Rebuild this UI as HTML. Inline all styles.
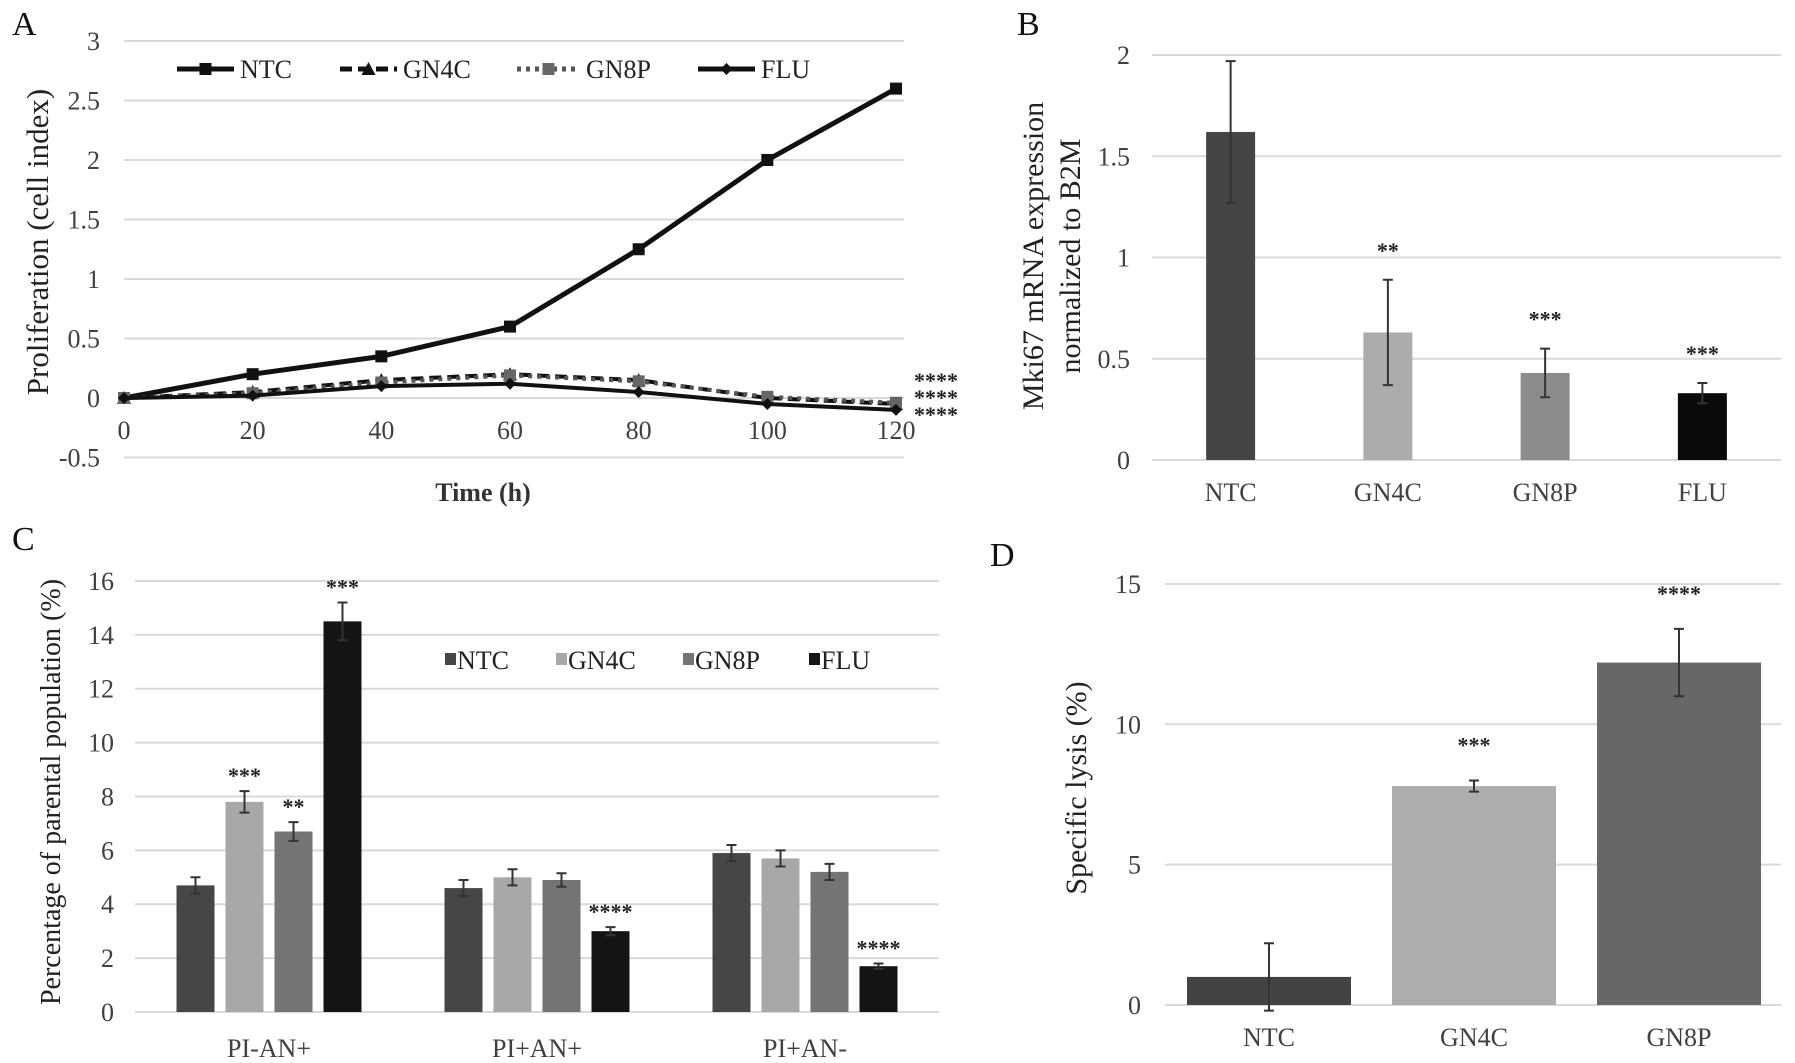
<!DOCTYPE html>
<html><head><meta charset="utf-8"><style>
html,body{margin:0;padding:0;background:#fff}
svg{display:block;font-family:"Liberation Serif",serif}
</style></head><body>
<svg id="fig" width="1795" height="1063" viewBox="0 0 1795 1063" xmlns="http://www.w3.org/2000/svg"></svg>
<script>
// ---- Panel A data ----
const aTimes=[0,20,40,60,80,100,120];
const aTicksY=[-0.5,0,0.5,1,1.5,2,2.5,3];
const aNTC=[0,0.2,0.35,0.6,1.25,2.0,2.6];
const aGN4C=[0,0.05,0.15,0.2,0.15,0.0,-0.05];
const aGN8P=[0,0.04,0.13,0.19,0.14,0.01,-0.04];
const aFLU=[0,0.02,0.1,0.12,0.05,-0.05,-0.1];
// ---- Panel B data ----
const bCats=["NTC","GN4C","GN8P","FLU"];
const bVals=[1.62,0.63,0.43,0.33];
const bErr=[0.35,0.26,0.12,0.05];
const bStars=["","**","***","***"];
const bTicks=[0,0.5,1,1.5,2];
// ---- Panel C data ----
const cCats=["PI-AN+","PI+AN+","PI+AN-"];
const cSeries=["NTC","GN4C","GN8P","FLU"];
const cNTC=[4.7,4.6,5.9];
const cGN4C=[7.8,5.0,5.7];
const cGN8P=[6.7,4.9,5.2];
const cFLU=[14.5,3.0,1.7];
const cErrNTC=[0.3,0.3,0.3];
const cErrGN4C=[0.4,0.3,0.3];
const cErrGN8P=[0.35,0.25,0.3];
const cErrFLU=[0.7,0.15,0.1];
const cStarsNTC=["","",""];
const cStarsGN4C=["***","",""];
const cStarsGN8P=["**","",""];
const cStarsFLU=["***","****","****"];
const cTicks=[0,2,4,6,8,10,12,14,16];
// ---- Panel D data ----
const dCats=["NTC","GN4C","GN8P"];
const dVals=[1.0,7.8,12.2];
const dErr=[1.2,0.2,1.2];
const dStars=["","***","****"];
const dTicks=[0,5,10,15];

const NS="http://www.w3.org/2000/svg";
const svg=document.getElementById('fig');
function mk(tag,attrs,parent,text){const e=document.createElementNS(NS,tag);for(const k in attrs)e.setAttribute(k,attrs[k]);if(text!==undefined)e.textContent=text;(parent||svg).appendChild(e);return e;}
function grp(name){const g=mk('g',{});return g;}
const TXT='#404040';

// panel letters
[["A",12,35],["B",1017,35],["C",12,550],["D",990,566]].forEach(p=>{
  const t=mk('text',{x:p[1],y:p[2],'font-size':34,fill:'#111'},svg,p[0]);
  
  
});

// ---------- Panel A ----------
(function(){
  const g=grp('panel-a-line-chart');
  const X=v=>124+v/120*772, Y=v=>398-v*119;
  aTicksY.forEach(v=>{
    const l=mk('line',{x1:124,x2:904,y1:Y(v),y2:Y(v),stroke:'#d9d9d9','stroke-width':2},g);
    
    const t=mk('text',{x:100,y:Y(v)+9,'text-anchor':'end','font-size':26,fill:TXT},g,String(v));
    
  });
  aTimes.forEach(v=>{
    const t=mk('text',{x:X(v),y:439,'text-anchor':'middle','font-size':26,fill:TXT},g,String(v));
    
  });
  const xt=mk('text',{x:483,y:501,'text-anchor':'middle','font-size':26,'font-weight':'bold',fill:'#333'},g,'Time  (h)');
  
  const yt=mk('text',{x:0,y:0,'text-anchor':'middle','font-size':31,fill:'#222',transform:'translate(48,242) rotate(-90)'},g,'Proliferation (cell index)');
  
  function path(vals){let d='';vals.forEach((v,i)=>{d+=(i?'L':'M')+X(aTimes[i])+','+Y(v);});return d;}
  const series=[
    {n:'ntc',v:aNTC,dash:'',w:5,m:'sq'},
    {n:'gn4c',v:aGN4C,dash:'12,6',w:4,m:'tri'},
    {n:'gn8p',v:aGN8P,dash:'4,5',w:4,m:'sqg'},
    {n:'flu',v:aFLU,dash:'',w:4,m:'dia'}];
  function marker(type,x,y,p){
    let e;
    if(type==='sq') e=mk('rect',{x:x-6,y:y-6,width:12,height:12,fill:'#111'},p);
    else if(type==='sqg') e=mk('rect',{x:x-6,y:y-6,width:12,height:12,fill:'#666'},p);
    else if(type==='tri') e=mk('polygon',{points:`${x},${y-7} ${x+7},${y+6} ${x-7},${y+6}`,fill:'#111'},p);
    else e=mk('polygon',{points:`${x},${y-6} ${x+6},${y} ${x},${y+6} ${x-6},${y}`,fill:'#111'},p);
    return e;
  }
  series.forEach(s=>{
    const ln=mk('path',{d:path(s.v),fill:'none',stroke:s.m==='sqg'?'#555':'#111','stroke-width':s.w,'stroke-dasharray':s.dash,'stroke-linejoin':'round'},g);
    
    s.v.forEach((v,i)=>{const m=marker(s.m,X(aTimes[i]),Y(v),g);
      });
  });
  const leg=[['NTC',177,240,'','sq'],['GN4C',340,403,'12,6','tri'],['GN8P',517,586,'4,5','sqg'],['FLU',698,761,'','dia']];
  leg.forEach(L=>{
    const lg=grp('a-legend-entry-'+L[0].toLowerCase());
    mk('line',{x1:L[1],x2:L[2]-6,y1:69,y2:69,stroke:L[4]==='sqg'?'#555':'#111','stroke-width':5,'stroke-dasharray':L[3]},lg);
    marker(L[4],(L[1]+L[2]-6)/2,69,lg);
    mk('text',{x:L[2],y:78,'font-size':26,fill:'#222'},lg,L[0]);
  });
  [378,395,412].forEach(y=>{const t=mk('text',{x:914,y:y+10,'font-size':22,'font-weight':'bold',fill:'#222'},g,'****');
    });
})();

function bar(g,name,x,w,y0,y1,fill){const r=mk('rect',{x:x,y:Math.min(y0,y1),width:w,height:Math.abs(y0-y1),fill:fill},g);
  return r;}
function errbar(g,cx,yTop,yBot){const e=mk('path',{d:`M${cx},${yTop}V${yBot}M${cx-5},${yTop}H${cx+5}M${cx-5},${yBot}H${cx+5}`,stroke:'#333','stroke-width':2,fill:'none'},g);
  }
function star(g,cx,y,s){if(!s)return;const t=mk('text',{x:cx,y:y,'text-anchor':'middle','font-size':22,'font-weight':'bold',fill:'#222'},g,s);
  }

// ---------- Panel B ----------
(function(){
  const g=grp('panel-b-bar-chart');
  const Y=v=>460-v*202.5;
  const colors=['#454545','#acacac','#8c8c8c','#0a0a0a'];
  const x0=1152,x1=1781,step=(x1-x0)/bCats.length,bw=49;
  bTicks.forEach(v=>{
    const l=mk('line',{x1:x0,x2:x1,y1:Y(v),y2:Y(v),stroke:'#d9d9d9','stroke-width':2},g);
    
    const t=mk('text',{x:1130,y:Y(v)+9,'text-anchor':'end','font-size':26,fill:TXT},g,String(v));
    
  });
  bCats.forEach((c,i)=>{
    const cx=x0+step*(i+0.5);
    bar(g,'b-bar-'+c.toLowerCase(),cx-bw/2,bw,Y(0),Y(bVals[i]),colors[i]);
    errbar(g,cx,Y(bVals[i]+bErr[i]),Y(bVals[i]-bErr[i]));
    star(g,cx,Y(bVals[i]+bErr[i])-22,bStars[i]);
    const t=mk('text',{x:cx,y:501,'text-anchor':'middle','font-size':26,fill:TXT},g,c);
    
  });
  const yt=mk('text',{'text-anchor':'middle','font-size':30,fill:'#222',transform:'translate(1043,256) rotate(-90)'},g);
  
  mk('tspan',{x:0,y:0},yt,'Mki67 mRNA expression');
  mk('tspan',{x:0,y:37},yt,'normalized to B2M');
})();

// ---------- Panel C ----------
(function(){
  const g=grp('panel-c-grouped-bar-chart');
  const Y=v=>1012-v*26.94;
  const x0=135,x1=939,step=(x1-x0)/cCats.length,bw=38,bstep=49;
  const colors=['#464646','#a8a8a8','#747474','#141414'];
  const vals=[cNTC,cGN4C,cGN8P,cFLU],errs=[cErrNTC,cErrGN4C,cErrGN8P,cErrFLU],stars=[cStarsNTC,cStarsGN4C,cStarsGN8P,cStarsFLU];
  cTicks.forEach(v=>{
    const l=mk('line',{x1:x0,x2:x1,y1:Y(v),y2:Y(v),stroke:'#d9d9d9','stroke-width':2},g);
    
    const t=mk('text',{x:114,y:Y(v)+9,'text-anchor':'end','font-size':26,fill:TXT},g,String(v));
    
  });
  cCats.forEach((c,i)=>{
    const gc=x0+step*(i+0.5);
    cSeries.forEach((s,j)=>{
      const cx=gc+(j-1.5)*bstep;
      const v=vals[j][i],e=errs[j][i];
      bar(g,'c-bar-'+s.toLowerCase()+'-'+i,cx-bw/2,bw,Y(0),Y(v),colors[j]);
      errbar(g,cx,Y(v+e),Y(v-e));
      star(g,cx,Y(v+e)-8,stars[j][i]);
    });
    const t=mk('text',{x:gc,y:1057,'text-anchor':'middle','font-size':26,fill:TXT},g,c);
    
  });
  const lx=[445,556,683,809];
  cSeries.forEach((s,j)=>{
    const lg=grp('c-legend-entry-'+s.toLowerCase());
    mk('rect',{x:lx[j],y:653,width:11,height:12,fill:colors[j]},lg);
    mk('text',{x:lx[j]+12,y:669,'font-size':26,fill:'#222'},lg,s);
  });
  const yt=mk('text',{'text-anchor':'middle','font-size':28,fill:'#222',transform:'translate(60,792) rotate(-90)'},g,'Percentage of parental population (%)');
  
})();

// ---------- Panel D ----------
(function(){
  const g=grp('panel-d-bar-chart');
  const Y=v=>1005-v*28.07;
  const colors=['#434343','#adadad','#676767'];
  const x0=1165,x1=1781,bw=164;
  dTicks.forEach(v=>{
    const l=mk('line',{x1:x0,x2:x1,y1:Y(v),y2:Y(v),stroke:'#d9d9d9','stroke-width':2},g);
    
    const t=mk('text',{x:1141,y:Y(v)+9,'text-anchor':'end','font-size':26,fill:TXT},g,String(v));
    
  });
  dCats.forEach((c,i)=>{
    const cx=1187+bw/2+i*205;
    bar(g,'d-bar-'+c.toLowerCase(),cx-bw/2,bw,Y(0),Y(dVals[i]),colors[i]);
    errbar(g,cx,Y(dVals[i]+dErr[i]),Y(dVals[i]-dErr[i]));
    star(g,cx,Y(dVals[i]+dErr[i])-28,dStars[i]);
    const t=mk('text',{x:cx,y:1046,'text-anchor':'middle','font-size':26,fill:TXT},g,c);
    
  });
  const yt=mk('text',{'text-anchor':'middle','font-size':30,fill:'#222',transform:'translate(1086,788) rotate(-90)'},g,'Specific lysis (%)');
  
})();
</script>
</body></html>
